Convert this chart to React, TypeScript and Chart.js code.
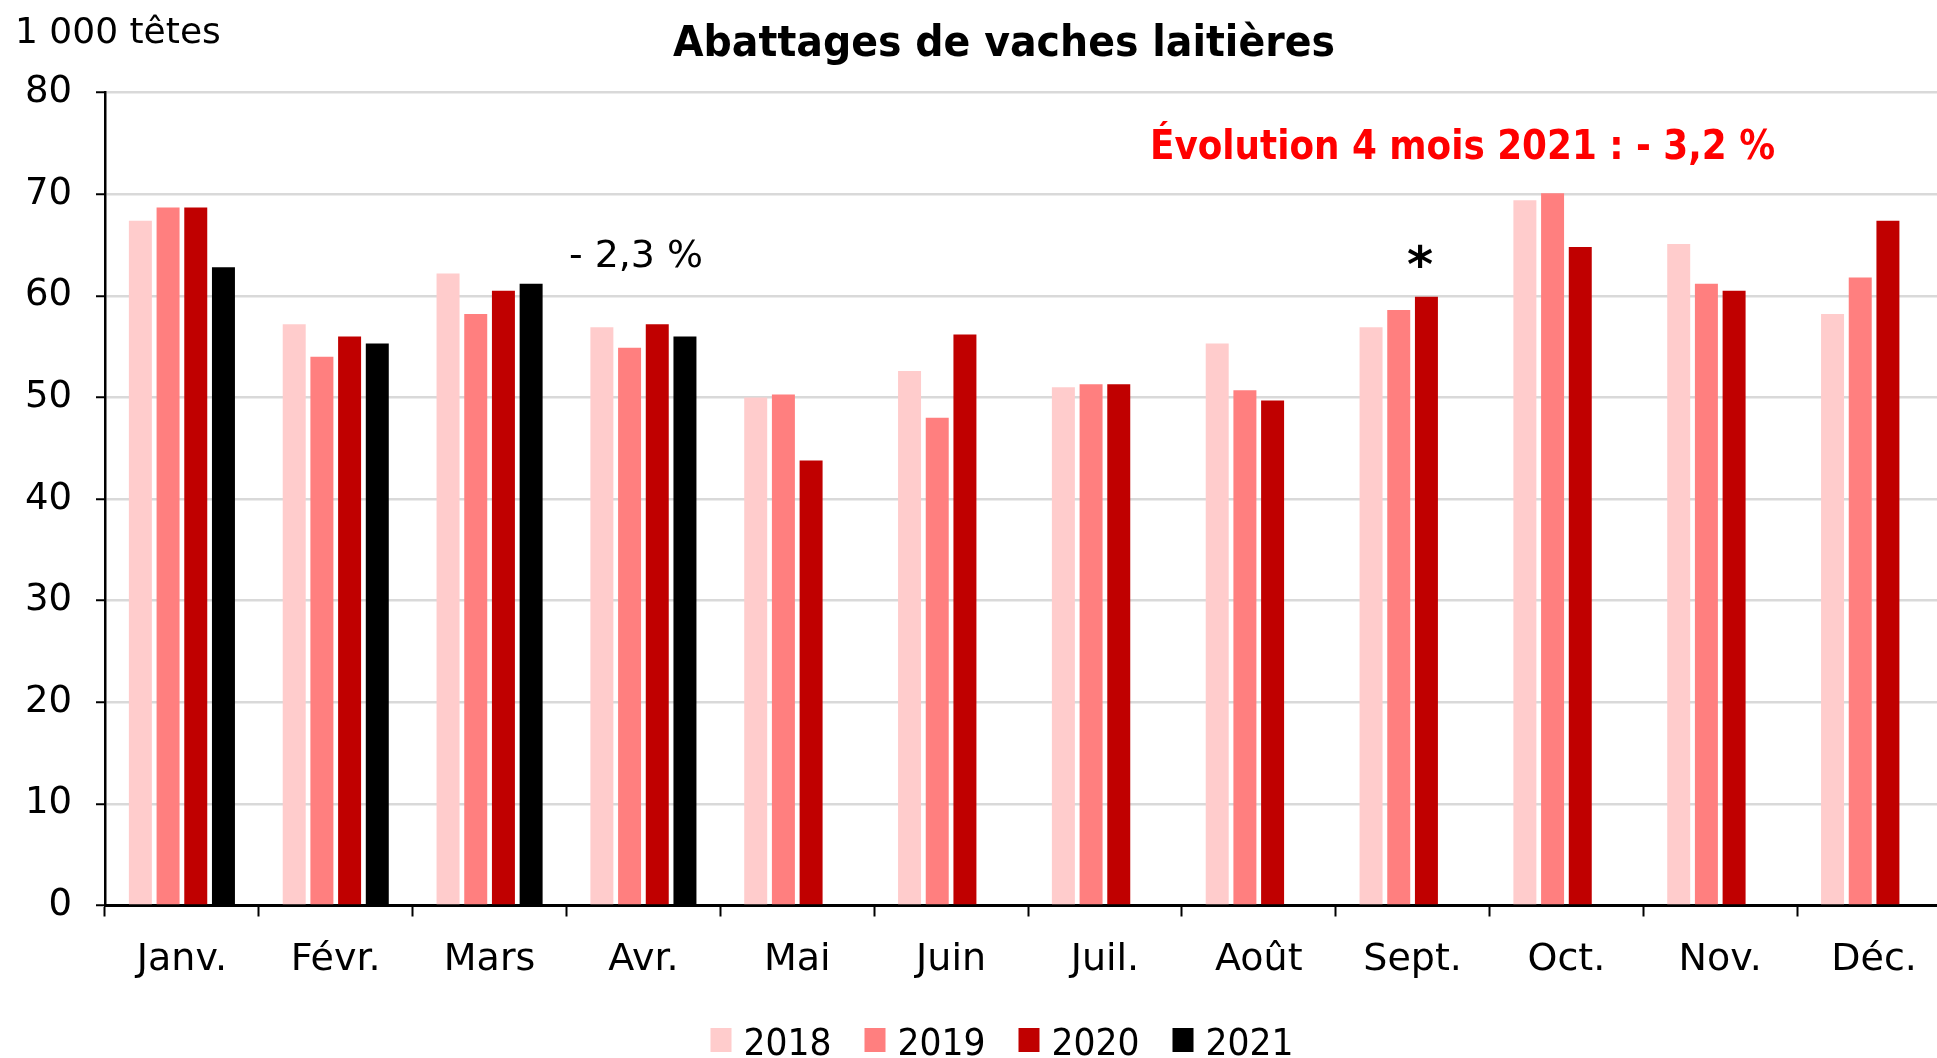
import React, { useEffect, useRef } from "react";
import { Chart, registerables } from "chart.js";

Chart.register(...registerables);

const months = ["Janv.", "Févr.", "Mars", "Avr.", "Mai", "Juin", "Juil.", "Août", "Sept.", "Oct.", "Nov.", "Déc."];
const years = ["2018", "2019", "2020", "2021"];
const v2018 = [67.4, 57.2, 62.2, 56.9, 50.0, 52.6, 51.0, 55.3, 56.9, 69.4, 65.1, 58.2];
const v2019 = [68.7, 54.0, 58.2, 54.9, 50.3, 48.0, 51.3, 50.7, 58.6, 70.1, 61.2, 61.8];
const v2020 = [68.7, 56.0, 60.5, 57.2, 43.8, 56.2, 51.3, 49.7, 59.9, 64.8, 60.5, 67.4];
const v2021 = [62.8, 55.3, 61.2, 56.0, null, null, null, null, null, null, null, null];
const colors = ["#FFCCCC", "#FF7F7F", "#C00000", "#000000"];
const yTicks = [0, 10, 20, 30, 40, 50, 60, 70, 80];

const titleText = "Abattages de vaches laitières";
const unitText = "1 000 têtes";
const evolText = "Évolution 4 mois 2021 : - 3,2 %";
const aprText = "- 2,3 %";
const starText = "*";

const FONT = '"DejaVu Sans", sans-serif';
const X_AXIS_H = 100;

const annotations = {
  id: "annotations",
  afterDraw(chart: any) {
    const ctx = chart.ctx;
    ctx.save();
    ctx.textBaseline = "alphabetic";
    ctx.textAlign = "left";
    ctx.fillStyle = "#000";
    ctx.font = `bold 43px ${FONT}`;
    ctx.fillText(titleText, 673, 56, 662);
    ctx.font = `36px ${FONT}`;
    ctx.fillText(unitText, 15, 43, 210);
    ctx.font = `38px ${FONT}`;
    ctx.fillText(aprText, 569, 267, 134);
    ctx.fillStyle = "#FF0000";
    ctx.font = `bold 40px ${FONT}`;
    ctx.fillText(evolText, 1150, 159, 625);
    ctx.fillStyle = "#000";
    ctx.font = `bold 50px ${FONT}`;
    ctx.textAlign = "center";
    ctx.fillText(starText, 1420, 282);

    // legend
    const ds = chart.data.datasets;
    ctx.font = `38px ${FONT}`;
    ctx.textAlign = "left";
    const boxW = 21, boxH = 24, gap = 12, spacing = 33, textW = 88;
    const widths = ds.map((d: any) => boxW + gap + Math.min(ctx.measureText(d.label).width, textW));
    const total = widths.reduce((a: number, b: number) => a + b, 0) + spacing * (ds.length - 1);
    let x = 1002 - total / 2;
    ds.forEach((d: any, i: number) => {
      ctx.fillStyle = d.backgroundColor;
      ctx.fillRect(x, 1028, boxW, boxH);
      ctx.fillStyle = "#000";
      ctx.fillText(d.label, x + boxW + gap, 1055, textW);
      x += widths[i] + spacing;
    });
    ctx.restore();
  },
};

export default function App() {
  const ref = useRef<HTMLCanvasElement>(null);
  useEffect(() => {
    if (!ref.current) return;
    const series = [v2018, v2019, v2020, v2021];
    const chart = new Chart(ref.current, {
      type: "bar",
      data: {
        labels: months,
        datasets: series.map((s, i) => ({
          label: years[i],
          data: s,
          backgroundColor: colors[i],
          borderWidth: 0,
          barPercentage: 0.83,
          categoryPercentage: 0.72,
        })),
      },
      options: {
        responsive: false,
        animation: false,
        devicePixelRatio: 1,
        layout: { padding: { left: 0, right: 0, top: 92.6, bottom: 1058 - 905.5 - X_AXIS_H } },
        plugins: {
          legend: { display: false },
          title: { display: false },
          tooltip: { enabled: false },
        },
        scales: {
          x: {
            grid: {
              display: true,
              drawOnChartArea: false,
              drawTicks: true,
              tickLength: 11,
              tickWidth: 2,
              tickColor: "#000",
              offset: true,
            },
            border: { display: true, color: "#000", width: 3 },
            ticks: {
              color: "#000",
              font: { family: FONT, size: 38 },
              padding: 21,
              maxRotation: 0,
              autoSkip: false,
            },
            afterFit: (scale: any) => {
              scale.height = X_AXIS_H;
            },
          },
          y: {
            min: 0,
            max: 80,
            afterBuildTicks: (scale: any) => {
              scale.ticks = yTicks.map((v) => ({ value: v }));
            },
            grid: {
              color: "#D9D9D9",
              lineWidth: 2.5,
              tickColor: "#000",
              tickLength: 9,
              tickWidth: 2,
            },
            border: { display: true, color: "#000", width: 2.5 },
            ticks: {
              color: "#000",
              font: { family: FONT, size: 37 },
              padding: 24,
            },
            afterFit: (scale: any) => {
              scale.width = 105;
            },
          },
        },
      },
      plugins: [annotations],
    });
    return () => chart.destroy();
  }, []);
  return (
    <div style={{ position: "fixed", left: 0, top: 0, width: "100vw", height: "100vh", overflow: "hidden", background: "#fff" }}>
      <canvas ref={ref} width={1951} height={1058} style={{ display: "block", width: 1951, height: 1058 }} />
    </div>
  );
}
